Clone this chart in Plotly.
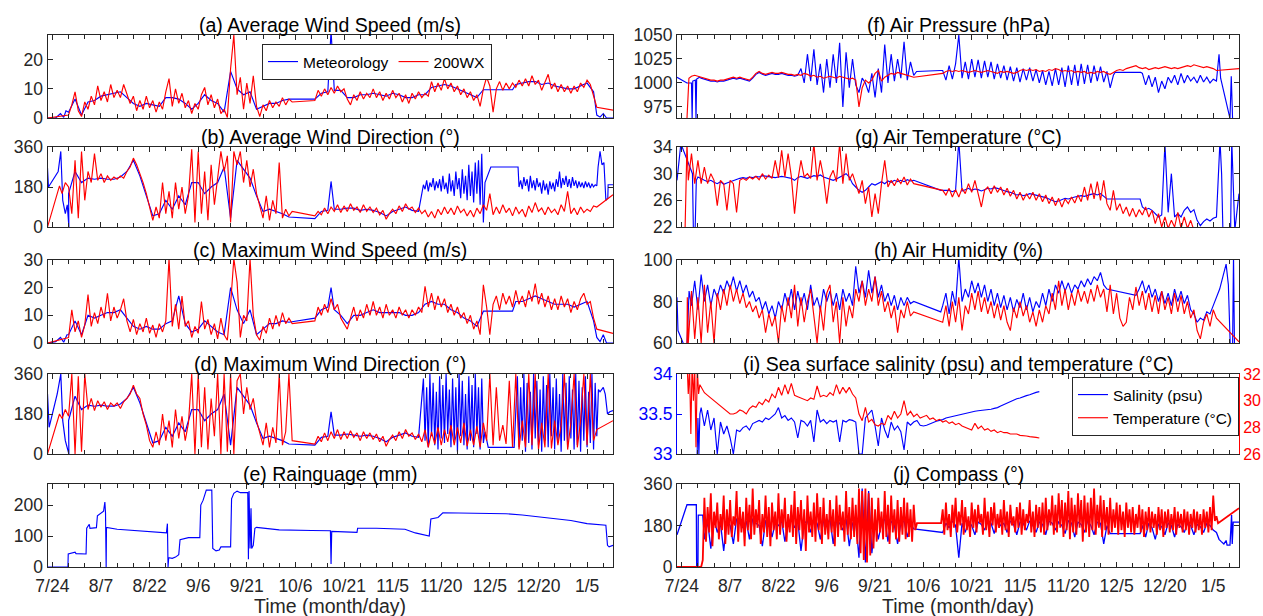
import plotly.graph_objects as go

# ---------------- axis categories ----------------
TICK_DAYS = [0, 15, 30, 45, 60, 75, 90, 105, 120, 135, 150, 165]
TICK_LABELS = ["7/24", "8/7", "8/22", "9/6", "9/21", "10/6", "10/21", "11/5",
               "11/20", "12/5", "12/20", "1/5"]
X_RANGE = [-1.5, 173]

# ---------------- (a) average wind speed ----------------
A_RED_1 = [1.0, 4.5, 9.0, 2.5, 0.5, 5.5, 3.0, 7.5, 4.5, 11.0,
           6.0, 9.0, 5.5, 11.5, 7.0, 9.5, 7.0, 11.5, 8.0, 5.0,
           7.5, 2.5, 6.0, 3.0, 7.5, 3.5, 6.0, 2.0, 5.5, 3.0,
           9.0, 13.5, 4.0, 10.0, 5.0, 8.5, 3.5, 6.0, 1.5, 5.0,
           3.0, 8.0, 10.5, 4.5, 8.0, 3.5, 6.5, 1.5, 3.0, 0.2,
           17.0, 28.5, 8.0, 14.0, 3.0, 12.0, 5.0, 14.5, 4.0, 0.5,
           4.5, 2.5, 6.0, 3.5, 5.5, 4.0, 7.0, 4.5, 6.5, 5.5]
A_RED_2 = [6.0, 9.5, 7.5, 10.0, 8.0, 10.5, 8.5, 11.0, 9.0, 10.0,
           6.5, 4.5, 8.0, 6.0, 9.0, 6.5, 8.5, 7.0, 10.0, 7.0,
           9.0, 6.0, 8.5, 6.5, 9.5, 7.0, 8.5, 5.5, 8.0, 5.0,
           8.5, 6.5, 9.0, 7.0, 8.5, 7.5, 12.5, 9.0, 12.0, 9.5,
           13.5, 10.0, 12.0, 9.0, 11.0, 8.0, 10.0, 7.0, 9.0, 6.0,
           8.0, 4.0, 10.0, 14.0, 11.0, 2.0, 10.0, 12.5, 9.5, 12.0,
           10.0, 12.0, 10.5, 13.0, 11.0, 13.5, 11.0, 14.5, 11.5, 13.0,
           9.5, 12.0, 15.0, 10.0, 12.0, 9.0, 11.5, 9.0, 11.0, 8.5,
           11.0, 9.0, 12.0, 10.5, 13.0, 11.5, 8.0, 3.7]
A_MET_1 = [2.0, 6.5, 1.0, 5.5, 6.0, 7.5, 8.0, 8.5, 9.0, 7.0, 5.0, 4.0, 5.0, 4.5,
           4.0, 7.0, 7.0, 6.5, 5.0, 3.0, 5.0, 8.0, 6.0, 5.0, 2.0, 16.0, 10.0, 8.0,
           9.0, 3.0, 4.0, 5.0, 5.0, 6.0, 6.5]
A_MET_2 = [6.5, 8.5, 9.0]
A_MET_3 = [9.5, 9.5, 7.0, 7.0, 8.0, 8.0, 8.5, 8.0, 7.5, 8.5, 8.0, 7.0, 7.0, 8.0,
           8.0, 10.5, 11.0, 11.5, 11.0, 10.0, 9.0, 8.0, 7.0, 9.7]
A_MET_4 = [11.5, 12.0, 12.5, 12.5, 11.5, 12.0, 11.0, 10.5, 10.0, 10.0, 11.0, 12.0, 9.0]

# ---------------- (b) average wind direction ----------------
B_RED_1 = [180, 60, 300, 40, 340, 120, 250, 200, 330, 210,
           240, 200, 230, 210, 225, 215, 230, 220, 250, 270,
           310, 280, 240, 200, 150, 90, 30, 90, 40, 200,
           60, 160, 40, 200, 80, 180, 60, 140, 350, 20,
           340, 60, 250, 30, 280, 100, 230, 340, 250, 320,
           20, 340, 280, 340, 200, 300, 180, 260, 150, 100,
           40, 140, 30, 120, 60, 290, 40, 80, 50, 70]
B_RED_2 = [50, 70, 55, 85, 60, 90, 70, 100, 65, 95,
           70, 105, 75, 90, 65, 100, 70, 90, 65, 85,
           55, 75, 35, 60, 80, 60, 95, 70, 105, 80,
           90, 65, 85, 60, 75, 45, 70, 40, 80, 55,
           90, 60, 85, 55, 95, 65, 80, 50, 75, 45,
           85, 60, 100, 75, 150, 55, 90, 60, 100, 65,
           85, 50, 90, 60, 80, 45, 95, 65, 110, 70,
           85, 55, 90, 65, 80, 55, 100, 70, 160, 60,
           85, 55, 90, 65, 80, 70, 95, 90]
B_MET_1 = [150, 250, 200, 220, 215, 220, 215, 215, 225, 250, 300, 230, 140, 50,
           60, 120, 80, 140, 100, 200, 200, 150, 180, 200, 270, 40, 300, 260,
           220, 140, 70, 80, 70, 60, 45]
B_MET_3 = [80, 85, 85, 75, 80, 75, 65, 50, 70, 80, 90, 75, 70]
B_MET_HI1 = [190, 170, 210, 160, 200, 180, 220, 165, 205, 175, 215, 160, 230, 170,
             200, 150, 240, 160, 210, 140, 250, 170, 220, 130, 260, 150, 230, 120,
             280, 140, 250, 110, 290, 150, 300, 100, 330, 20, 200]
B_MET_HI2 = [180, 210, 170, 225, 185, 215, 160, 230, 175, 210, 165, 220, 180, 200,
             150, 210, 165, 195, 145, 205, 170, 200, 160, 215, 180, 250, 175, 220,
             190, 230, 180, 215, 175, 225, 185, 210, 175, 205, 180, 200, 175, 205,
             180, 200, 175, 195, 180, 190, 185]

# ---------------- (c) maximum wind speed ----------------
C_RED_1 = [2.0, 12.0, 4.0, 8.0, 2.0, 6.5, 17.5, 6.0, 11.0, 7.0,
           13.0, 9.0, 18.0, 8.0, 13.0, 9.0, 12.0, 16.0, 8.0, 4.0,
           8.5, 3.0, 7.0, 4.0, 9.0, 3.5, 6.5, 2.0, 7.0, 4.0,
           8.0, 30.5, 6.0, 14.0, 5.0, 17.0, 6.0, 8.0, 2.0, 6.0,
           3.5, 15.0, 5.0, 8.5, 3.0, 7.0, 1.5, 9.0, 3.0, 1.0,
           14.0, 30.5, 22.0, 2.0, 10.0, 8.0, 30.5, 10.0, 3.0, 1.0,
           6.0, 3.5, 9.0, 5.0, 10.0, 6.0, 11.0, 7.0, 9.0, 7.0]
C_RED_2 = [8, 13, 10, 14, 11, 16, 12, 14, 9, 7,
           5, 9, 13, 8, 12, 9, 14, 10, 15, 10,
           13, 9, 14, 10, 12, 9, 13, 10, 12, 9,
           12, 10, 13, 11, 20.5, 13, 18, 12, 17, 13,
           16, 11, 14, 10, 13, 9, 11, 7, 10, 5,
           8, 3, 21, 13, 3, 14, 17, 12, 18, 14,
           17, 13, 19, 14, 17, 13, 19, 15, 21.5, 14,
           18, 13, 17, 12, 16, 12, 17, 13, 16, 11,
           15, 12, 16, 18, 14, 15, 9, 5]
C_MET_1 = [3, 8, 3, 10, 9, 10, 11, 11, 12, 9, 6, 5, 6, 5, 5, 7, 8, 17, 7, 4, 5, 8,
           6, 4, 3, 20, 12, 7, 12, 3, 5, 7, 7, 8, 7.5]
C_MET_2 = [9, 12, 13]
C_MET_3 = [12, 10, 7, 10, 10, 11, 12, 11, 11, 11, 11, 10, 10, 11, 14, 15, 14, 14,
           12, 11, 9, 8, 6, 11.5]
C_MET_4 = [15, 15, 16, 17, 16, 15, 14, 14, 14, 13, 14, 15, 8]

# ---------------- (d) maximum wind direction ----------------
D_RED_1 = [170, 360, 0, 350, 10, 360, 200, 250, 195, 240,
           210, 235, 200, 230, 215, 230, 205, 235, 250, 270,
           310, 270, 250, 180, 130, 60, 30, 100, 40, 180,
           60, 150, 30, 200, 70, 170, 60, 140, 360, 0,
           360, 30, 300, 20, 250, 80, 360, 0, 360, 10,
           360, 0, 330, 360, 180, 300, 200, 250, 150, 100,
           40, 140, 30, 120, 50, 360, 40, 100, 360, 60]
D_RED_2 = [45, 80, 55, 95, 60, 100, 70, 110, 65, 100,
           70, 105, 75, 95, 60, 100, 70, 95, 65, 90,
           55, 80, 35, 65, 85, 60, 100, 70, 110, 80,
           95, 65, 90, 55, 110, 30, 100, 45, 120, 40,
           110, 55, 130, 40, 120, 50, 140, 35, 110, 40,
           125, 30, 140, 60, 360, 40, 300, 60, 130, 45,
           330, 30, 360, 20, 150, 30, 360, 40, 360, 20,
           140, 30, 360, 25, 150, 40, 130, 360, 20, 140,
           360, 30, 150, 360, 40, 360, 60, 110]
D_MET_1 = [150, 260, 200, 220, 215, 220, 215, 215, 225, 250, 300, 230, 140, 50,
           60, 120, 80, 140, 100, 200, 200, 150, 180, 200, 270, 40, 300, 260,
           220, 140, 70, 80, 70, 60, 45]
D_MET_3 = [85, 90, 85, 80, 85, 80, 70, 55, 75, 85, 95, 80, 75]
D_MET_HI1 = [340, 60, 300, 30, 360, 80, 320, 40, 280, 20, 350, 70, 310, 50, 360,
             90, 290, 30, 340, 60, 300, 10, 360, 80, 330, 40, 270, 20, 350, 60,
             310, 30, 360, 90, 300, 20, 340, 50, 100]
D_MET_HI2 = [350, 30, 300, 60, 360, 10, 320, 50, 280, 20,
             360, 70, 330, 40, 290, 10, 350, 60, 310, 30,
             360, 80, 300, 20, 340, 50, 270, 10, 360, 60,
             320, 30, 350, 70, 290, 20, 360, 40, 330, 10,
             300, 60, 350, 30, 280, 50, 360, 20, 320, 80]

# ---------------- (e) rainguage ----------------
E_T = [-1.5, 4.8, 4.9, 6.5, 7.0, 7.3, 10.4, 10.6, 11.4, 11.6, 13.6, 13.9, 15.0, 15.8,
       16.2, 16.4, 16.6, 16.7, 20, 25, 30, 35.2, 35.5, 35.7, 35.9, 37, 38, 39, 39.4,
       40.5, 42, 45.5, 45.8, 46.5, 47.5, 49.2, 49.5, 50.5, 51.5, 52, 55, 55.3, 56,
       57, 58, 60.3, 60.5, 60.7, 61, 61.3, 61.5, 62, 62.5, 63, 70, 80, 85.8, 86,
       86.2, 94, 94.2, 100, 108.8, 112, 116.3, 116.8, 119, 120.5, 130, 140, 145,
       150, 155, 160, 165, 168.5, 170.8, 171.3, 171.8, 173]
E_V = [0, 0, 42, 45, 48, 43, 42, 125, 138, 125, 127, 165, 175, 180,
       210, 175, 0, 128, 122, 118, 114, 110, 140, 0, 30, 28, 32, 40, 88,
       92, 95, 95, 200, 215, 248, 248, 60, 52, 55, 65, 65, 220, 238,
       245, 240, 240, 25, 245, 60, 190, 60, 70, 125, 128, 120, 118, 117, 10,
       115, 112, 125, 125, 122, 110, 100, 155, 160, 175, 173, 172, 168,
       162, 158, 150, 140, 138, 135, 70, 65, 70]

# ---------------- (f) air pressure ----------------
F_RED_1 = [1007, 1008, 1007, 1006, 1005, 1004, 1003, 1003, 1002, 1003,
           1003, 1004, 1005, 1006, 1005, 1006, 1005, 1004, 1003, 1006,
           1010, 1012, 1010, 1009, 1010, 1011, 1010, 1010, 1011, 1010,
           1009, 1009, 1008, 1009, 1008, 1010, 1009, 1007, 1008, 1006,
           1007, 1005, 1006, 1007, 1006, 1005, 1007, 1006, 1005, 1004,
           1005, 1003, 975, 995, 1003, 1000, 1003, 1010, 1013, 1002,
           1006, 1008, 1010, 1009, 1011, 1010, 1009, 1008, 1007, 1006]
F_RED_2 = [1010, 1012, 1013, 1012, 1013, 1012, 1013, 1012, 1011, 1012,
           1013, 1012, 1011, 1012, 1013, 1012, 1011, 1010, 1012, 1011,
           1012, 1011, 1010, 1011, 1013, 1014, 1013, 1014, 1013, 1014,
           1012, 1013, 1012, 1014, 1013, 1015, 1014, 1012, 1013, 1012,
           1013, 1011, 1012, 1011, 1012, 1010, 1011, 1010, 1012, 1011,
           1012, 1010, 1009, 1011, 1013, 1014, 1013, 1015, 1016, 1017,
           1018, 1016, 1015, 1016, 1014, 1015, 1016, 1015, 1016, 1017,
           1016, 1015, 1016, 1015, 1016, 1017, 1018, 1017, 1019, 1018,
           1017, 1016, 1017, 1016, 1015, 1013]
F_MET_1 = [1005, 1004, 1003, 1002, 1002, 1001, 1002, 1002, 1003, 1004, 1005, 1004,
           1005, 1004, 1003, 1002, 1005, 1009, 1011, 1009, 1008, 1009, 1010, 1009,
           1009, 1010, 1009, 1008, 1008, 1007, 1008]
F_MET_OSC = [1015, 1000, 1030, 1002, 1035, 998, 1020, 990, 1025, 995, 1030, 1000,
             1042, 975, 1032, 995, 1025, 998, 990, 1005, 1000, 990, 1010, 985,
             1015, 990, 1040, 1000, 1030, 1002, 1025, 1005, 1043, 1003, 1022, 1008]
F_MET_2 = [1013, 1003, 1018, 1004, 1020, 1050, 1005, 1022, 1004, 1025,
           1006, 1024, 1005, 1023, 1006, 1022, 1004, 1020, 1005, 1018,
           1003, 1017, 1002, 1016, 1001, 1015, 1003, 1016, 1002, 1014,
           1000, 1013, 998, 1012, 997, 1015, 998, 1016, 996, 1018,
           998, 1019, 997, 1020, 999, 1019, 1000, 1018, 1002, 1017,
           1001, 1012, 995, 1008]
F_MET_3 = [1010, 998, 1008, 996, 1006, 990, 1002, 994, 1006, 1000, 1008, 998,
           1010, 1000, 1008, 1002, 1006, 1000, 1008, 1001, 1006, 1000, 1004, 1002]

# ---------------- (g) air temperature ----------------
G_RED_1 = [29, 33, 28.5, 32, 28.5, 31, 28.5, 30, 29, 25.2,
           29, 28.5, 24.5, 29, 28.5, 24.2, 29, 29.3, 29, 29.5,
           29.2, 29.6, 29.1, 30, 29.2, 29.8, 29.3, 32, 29.4, 33.5,
           29.5, 33, 29.6, 24, 29, 32, 29.5, 30, 29.3, 34.5,
           29, 32, 29.5, 25.5, 29.5, 30.5, 28.8, 34.5, 28.5, 33,
           29, 30, 28.5, 27, 29, 25.5, 28, 23.5, 27, 24,
           28.5, 32, 28, 29, 28.2, 29.2, 28.5, 29.5, 28.3, 29.2, 28.5]
G_RED_2 = [27.5, 26.8, 27.8, 26.5, 27.6, 26.5, 27.8, 27.0, 28.5, 27.2,
           29.0, 27.0, 25.0, 27.5, 28.0, 27.0, 28.2, 27.2, 28.0, 26.8,
           27.8, 26.6, 27.5, 26.2, 27.2, 26.0, 27.0, 26.2, 27.2, 26.0,
           27.0, 25.8, 26.8, 25.5, 26.5, 25.2, 26.3, 25.0, 26.2, 25.5,
           26.5, 25.6, 26.8, 25.8, 28.0, 26.0, 28.5, 26.2, 28.8, 26.0,
           29.0, 25.5, 24.5, 27.5, 24.5, 25.5, 24.0, 25.0, 23.6, 24.8,
           23.5, 24.6, 23.8, 25.0, 23.5, 24.5, 22.5, 24.0, 22.0, 23.5,
           21.8, 23.0, 22.0, 24.2, 21.8, 23.5, 21.8, 23.0]
G_MET_1 = [29.5, 29.2, 29.0, 28.8, 29.0, 28.7, 28.5, 28.8, 28.4, 28.6,
           28.8, 29.0, 29.2, 29.3, 29.4, 29.3, 29.5, 29.4, 29.6, 29.5,
           29.7, 29.6, 29.6, 29.5, 29.4, 29.5, 29.6, 29.5, 29.4, 29.3,
           29.0, 29.4, 29.6, 29.5, 29.3, 29.5, 29.7, 29.6, 29.8, 29.5,
           29.3, 29.2, 29.0, 29.2, 29.5, 29.8, 30.0, 29.5, 28.5, 28.0,
           27.5, 27.2, 27.5, 28.0, 28.5, 28.3, 28.6, 28.8, 28.5, 28.9,
           28.7, 29.0, 28.8, 29.0, 28.8, 29.1, 28.9, 29.0]
G_MET_2 = [27.5, 27.4, 27.5, 27.3, 27.5, 35.0, 27.4, 27.6, 27.8, 27.5,
           27.7, 27.6, 27.4, 27.6, 27.8, 27.7, 27.9, 27.8, 27.6, 27.5,
           27.3, 27.2, 27.0, 26.8, 26.9, 26.7, 26.8, 27.0, 26.9, 26.8,
           26.7, 26.6, 26.4, 26.2, 26.0, 25.8, 25.9, 26.1, 26.3, 26.2,
           26.4, 26.5, 26.6, 26.7, 26.6, 26.8, 26.9, 27.0, 26.8, 27.0,
           26.6, 26.2]
G_MET_3 = [25.0, 24.6, 24.8, 24.5, 24.0, 23.5, 23.8, 34.5, 24.2, 30.0, 23.5, 24.0,
           23.5, 24.5, 25.0, 24.2, 24.6, 23.0, 22.2, 22.8, 23.2, 22.9, 23.3, 23.5]

# ---------------- (h) air humidity ----------------
H_RED_1 = [60, 85, 62, 82, 60, 88, 65, 80, 60, 84,
           76, 86, 78, 88, 80, 86, 79, 84, 77, 80,
           75, 78, 72, 76, 65, 74, 68, 73, 60, 78,
           70, 82, 72, 88, 68, 82, 70, 80, 86, 72,
           60, 78, 66, 84, 88, 70, 80, 60, 82, 68,
           78, 72, 86, 80, 90, 78, 86, 80, 92, 78,
           85, 75, 80, 72, 78, 65, 76, 72, 80, 73, 75]
H_RED_2 = [70, 78, 68, 80, 70, 82, 66, 78, 74, 84,
           76, 85, 75, 82, 74, 80, 72, 79, 71, 78,
           70, 66, 77, 72, 80, 73, 78, 70, 75, 68,
           76, 70, 78, 74, 84, 76, 90, 78, 86, 76,
           84, 78, 86, 80, 85, 79, 86, 80, 88, 82,
           86, 75, 88, 74, 84, 72, 68, 70, 82, 76,
           87, 78, 85, 76, 84, 75, 83, 74, 85, 76,
           82, 74, 84, 75, 83, 74, 80, 72, 76, 66,
           62, 70, 74, 68, 76, 72]
H_MET_1 = [78, 90, 76, 93, 80, 88, 78, 86, 82, 88,
           84, 90, 86, 92, 85, 90, 84, 88, 82, 85,
           80, 82, 76, 80, 74, 78, 72, 80, 76, 84,
           78, 86, 76, 85, 78, 84, 76, 88, 78, 82,
           76, 86, 80, 85, 78, 84, 76, 86, 80, 84,
           78, 97, 84, 90, 82, 95, 84, 92, 82, 88,
           80, 84, 78, 83, 76, 82, 78, 82, 79, 80]
H_MET_2 = [78, 84, 74, 85, 78, 101, 80, 86, 82, 90,
           84, 89, 82, 88, 80, 86, 78, 84, 77, 83,
           76, 82, 75, 81, 77, 84, 76, 82, 75, 80,
           77, 84, 78, 86, 80, 88, 84, 90, 85, 89,
           84, 88, 86, 90, 87, 91, 88, 92, 90, 94,
           88, 86]
H_MET_3 = [86, 90, 84, 88, 82, 86, 80, 85, 79, 84, 78, 86, 80, 85, 79, 83, 76, 74,
           70, 72, 71, 75, 74, 78, 82]

# ---------------- (i) sea surface salinity & temperature ----------------
I_SAL_1 = [33.58, 33.35, 33.55, 33.3, 33.45, 33.0, 33.4, 33.25, 33.35, 33.2,
           33.0, 33.3, 33.28, 33.33, 33.35, 33.3, 33.38, 33.4, 33.42, 33.4,
           33.45, 33.43, 33.47, 33.5, 33.58, 33.45, 33.48, 33.42, 33.45, 33.4,
           33.2, 33.42, 33.4, 33.35, 33.42, 33.15, 33.55, 33.4, 33.43, 33.38,
           33.42, 33.4, 33.42, 33.15, 33.42, 33.4, 33.43, 33.42, 33.4, 33.0,
           33.0, 33.45, 33.5, 33.55, 33.35, 33.1, 33.45, 33.3, 33.2, 33.4,
           33.3, 33.35, 33.28, 33.05, 33.4, 33.36, 33.4, 33.42, 33.36, 33.35]
I_SAL_2 = [33.36, 33.38, 33.39, 33.41, 33.42, 33.43, 33.45, 33.46, 33.47, 33.48,
           33.49, 33.5, 33.51, 33.52, 33.53, 33.535, 33.54, 33.545, 33.55, 33.55,
           33.56, 33.57, 33.58, 33.6, 33.62, 33.64, 33.66, 33.68, 33.69, 33.7,
           33.72, 33.73, 33.74, 33.76, 33.77, 33.78]
I_TMP_0 = [33, 30.5, 32.5, 27.5, 33, 30.0, 32.5, 26.5, 32.5, 30.5, 31.2]
I_TMP_1 = [31.0, 30.6, 30.4, 30.2, 30.0, 29.8, 29.6, 29.4, 29.2, 29.0,
           29.0, 29.1, 29.3, 29.2, 29.0, 29.4, 29.6, 29.5, 29.9, 29.7,
           30.1, 29.9, 30.5, 30.2, 31.0, 30.4, 31.2, 30.5, 31.3, 30.4,
           30.3, 30.2, 30.1, 30.0, 30.2, 30.1, 31.1, 30.3, 30.4, 30.3,
           30.6, 30.4, 31.2, 30.5, 31.0, 30.6, 31.0, 30.5, 30.2, 29.0,
           28.5, 29.5, 28.4, 28.6, 28.2, 28.1, 28.3, 28.2, 28.9, 28.6,
           29.2, 28.7, 29.0, 30.0, 28.9, 29.2, 28.8, 29.0, 28.7, 28.8]
I_TMP_2 = [28.9, 28.6, 28.7, 28.5, 28.6, 28.4, 28.5, 28.3, 28.4, 28.2,
           28.3, 28.1, 28.0, 27.9, 27.8, 28.3, 27.9, 28.1, 27.8, 27.9,
           27.7, 27.8, 27.6, 27.7, 27.6, 27.6, 27.5, 27.5, 27.5, 27.4,
           27.4, 27.35, 27.3, 27.3, 27.25, 27.2]

# ---------------- (j) compass ----------------
J_RED_1 = [300, 110, 260, 150, 320, 90, 240, 170, 280, 120,
           230, 160, 310, 100, 250, 140, 290, 130, 220, 180,
           330, 110, 260, 150, 240, 90, 300, 160, 270, 120,
           340, 140, 250, 170, 290, 100, 230, 150, 310, 130,
           260, 90, 280, 160, 240, 120, 320, 140, 250, 170,
           300, 110, 230, 150, 270, 130, 330, 100, 260, 160,
           290, 120, 250, 70, 310, 150, 240, 130, 280, 110,
           320, 160, 260, 100, 300, 140, 230, 120, 290, 150,
           250, 90, 310, 130, 270, 160, 240, 110, 330, 140,
           260, 120, 300, 130, 270, 100, 340, 60, 330, 30,
           340, 20, 320, 50, 300, 80, 250, 110, 300, 150,
           240, 120, 330, 130, 270, 100, 310, 150, 250, 120,
           290, 110, 260, 140, 300, 120, 280, 130, 250, 110, 270, 160, 190]
J_RED_2 = [190, 250, 140, 280, 160, 230, 130, 270, 170, 300,
           150, 240, 180, 290, 140, 260, 160, 220, 130, 280,
           170, 250, 150, 270, 190, 230, 140, 300, 160, 240,
           130, 260, 180, 280, 150, 230, 170, 250, 140, 290,
           160, 240, 130, 270, 180, 220, 150, 260, 170, 280,
           140, 250, 160, 230, 190, 290, 150, 240, 130, 270,
           170, 260, 150, 280, 140, 300, 160, 250, 180, 310,
           140, 270, 150, 320, 170, 290, 130, 280, 160, 330,
           120, 300, 150, 270, 140, 320, 170, 290, 110, 310,
           150, 280, 130, 300, 160, 340, 140, 270, 170, 310,
           130, 290, 160, 260, 140, 300, 150, 250, 170, 280,
           140, 270, 160, 240, 130, 280, 170, 250, 150, 260,
           140, 230, 170, 270, 150, 250, 130, 240, 160, 260,
           150, 240, 170, 230, 140, 260, 160, 250, 130, 240,
           170, 250, 150, 230, 160, 260, 140, 240, 170, 230,
           150, 250, 160, 240, 140, 230, 170, 250, 150, 240,
           160, 230, 140, 250, 170, 240, 150, 260, 160, 310,
           200, 220, 190]
J_MET_1 = [120, 200, 80, 210, 150, 190, 70, 200, 180, 100, 210, 190, 170, 200,
           120, 210, 190, 180, 90, 200, 210, 130, 190, 180, 200, 110, 190, 210,
           170, 200, 70, 190, 200, 150, 210, 190, 120, 200, 180, 210, 100, 200,
           190, 160, 210, 90, 190, 200, 40, 340, 20, 330, 60, 200, 120, 190,
           210, 110, 200, 180, 100, 190, 200, 130, 190, 165]
J_MET_2 = [150, 190, 170, 200, 180, 40, 190, 150, 200, 180, 140, 195, 185, 160,
           200, 190, 145, 200, 180, 190, 150, 200, 185, 140, 195, 190, 160, 200,
           180, 150, 195, 185, 140, 200, 190, 160, 195, 180, 145, 200, 190, 130,
           195, 185, 150, 200, 180, 140, 195, 190, 100, 180, 145]
J_MET_3 = [180, 130, 190, 170, 120, 185, 175, 140, 190, 180, 130, 185, 175, 150,
           190, 180, 140, 185, 175, 150, 190, 180, 160, 150]


# ---------------- helpers ----------------
def reg(t0, dt, vals):
    return [t0 + i * dt for i in range(len(vals))], list(vals)


def pts(ts, vals):
    return list(ts), list(vals)


def join(*pieces):
    t, v = [], []
    for a, b in pieces:
        t += a
        v += b
    return t, v


S = {}
S["a_met"] = join(pts([-1.5, 1, 2.5, 3.5, 4.2], [0, 0, 1.5, 0.2, 2.5]), reg(5, 2, A_MET_1),
                  reg(81, 2, A_MET_2), pts([86], [30]), reg(87, 2, A_MET_3), pts([142], [9.7]),
                  reg(143, 2, A_MET_4), pts([168, 169, 170, 171, 173], [1.0, 0.3, 1.5, 0.0, 0.0]))
S["a_red"] = join(pts([-1.5], [0]), reg(5, 1, A_RED_1), reg(81, 1, A_RED_2), pts([173], [2.7]))

S["b_met"] = join(pts([-1.5, -1.2, 1.8, 2.6, 3.2, 4.0, 4.6, 5.1], [265, 180, 250, 340, 120, 60, 100, 0]),
                  reg(5, 2, B_MET_1), pts([81, 83, 85, 86, 87], [38, 70, 75, 205, 80]),
                  reg(89, 2, B_MET_3), reg(114.5, 0.5, B_MET_HI1), pts([135.3, 143.7], [270, 270]),
                  reg(144, 0.5, B_MET_HI2),
                  pts([168.4, 169, 169.6, 170.2, 170.8, 171.4, 171.5, 173], [270, 340, 280, 290, 120, 130, 190, 190]))
S["b_red"] = join(pts([-1.5, 2.2, 3, 4], [0, 185, 150, 200]), reg(5, 1, B_RED_1), reg(81, 1, B_RED_2),
                  pts([173], [145]))

S["c_met"] = join(pts([-1.5, 1, 2.5, 3.5, 4.5], [0, 0.5, 2, 0.3, 3]), reg(5, 2, C_MET_1),
                  reg(81, 2, C_MET_2), pts([86], [20]), reg(87, 2, C_MET_3), pts([142], [11.5]),
                  reg(143, 2, C_MET_4), pts([168, 169, 170, 171, 173], [2, 0.5, 3, 0, 0]))
S["c_red"] = join(pts([-1.5], [0]), reg(5, 1, C_RED_1), reg(81, 1, C_RED_2), pts([173], [3.5]))

S["d_met"] = join(pts([-1.5, -1.0, 1.5, 2.6, 3.2, 4.0, 5.1], [270, 120, 270, 360, 150, 60, 0]),
                  reg(5, 2, D_MET_1), pts([81, 83, 85, 86, 87], [40, 75, 80, 190, 85]),
                  reg(89, 2, D_MET_3), reg(114.5, 0.5, D_MET_HI1), pts([134.5, 142.5], [30, 30]),
                  reg(143.5, 0.5, D_MET_HI2),
                  pts([168.5, 169, 170, 170.6, 171.3, 172, 173], [290, 280, 300, 270, 180, 190, 195]))
S["d_red"] = join(pts([-1.5, 2.2, 3.0, 4.0], [0, 180, 160, 200]), reg(5, 1, D_RED_1),
                  reg(81, 1, D_RED_2), pts([173], [150]))

S["e_met"] = pts(E_T, E_V)

S["f_met"] = join(pts([-1.5, 1.6, 3.0, 3.2, 3.4, 4.2, 4.4, 4.6, 5.5],
                      [1006, 1000, 1000, 963, 1002, 1003, 963, 1004, 1006]),
                  reg(6, 1, F_MET_1), reg(37, 1, F_MET_OSC), pts([72.9, 80.4], [1012, 1013]),
                  reg(81, 1, F_MET_2), pts([134.5, 142.5], [1011, 1011]), reg(143, 1, F_MET_3),
                  pts([166.8, 167.3, 168, 168.8, 169.5, 170.2, 170.6, 171],
                      [1030, 1005, 995, 985, 975, 963, 1007, 963]))
S["f_red"] = join(pts([1.6, 2.2], [963, 1005]), reg(3, 1, F_RED_1), reg(81, 1, F_RED_2),
                  pts([173], [1015]))

S["g_met"] = join(pts([-1.5, -0.3, 3.3, 3.6, 4.1, 4.5], [29, 34.5, 30, 21, 21, 29]),
                  reg(5, 1, G_MET_1), pts([80.4], [27.5]), reg(81, 1, G_MET_2), pts([142.3], [26.2]),
                  reg(143, 1, G_MET_3),
                  pts([167.1, 167.6, 168, 170.4, 170.75, 171.7, 173], [35, 30, 21.5, 21.5, 35, 21.5, 27]))
S["g_red"] = join(pts([1.0, 1.6], [21.5, 34.5]), reg(2, 1, G_RED_1), reg(81, 1, G_RED_2),
                  pts([159, 166.6, 173], [21.5, 21.0, 19.5]))

S["h_met"] = join(pts([-1.5, -1.2, 0.4, 1.5, 2.25], [82, 66, 60, 55, 85]), reg(3, 1, H_MET_1),
                  pts([80.4], [75]), reg(81, 1, H_MET_2), pts([141], [83]), reg(142, 1, H_MET_3),
                  pts([167, 168, 169, 169.7, 170.3, 171.0, 171.3, 171.6], [86, 92, 98, 88, 58, 58, 102, 58]))
S["h_red"] = join(pts([1.6, 1.7], [59, 82]), reg(2, 1, H_RED_1), reg(81, 1, H_RED_2),
                  pts([173], [60.5]))

S["i_sal"] = join(pts([4.75, 5.0, 5.3, 5.6], [33.0, 33.45, 33.0, 33.5]), reg(6, 1, I_SAL_1),
                  reg(76, 1, I_SAL_2))
S["i_tmp"] = join(reg(1.6, 0.4, I_TMP_0), reg(6, 1, I_TMP_1), reg(76, 1, I_TMP_2))

S["j_met"] = join(pts([-1.5, 1.6, 4.5, 4.6, 5.0, 5.1, 6.5], [140, 270, 270, 0, 0, 225, 225]),
                  reg(7, 1, J_MET_1), pts([80.4], [150]), reg(81, 1, J_MET_2), pts([142.3], [145]),
                  reg(143, 1, J_MET_3),
                  pts([166.8, 167.5, 168.3, 169, 169.3, 170.2, 170.7, 170.9, 171.2, 171.6, 173],
                      [120, 110, 100, 115, 95, 95, 225, 100, 195, 195, 195]))
S["j_red"] = join(pts([-1.5, 6.0, 6.5], [0, 0, 30]), reg(7, 0.5, J_RED_1), reg(80.5, 0.5, J_RED_2),
                  pts([173], [255]))

# ---------------- layout ----------------
W, H = 1263, 616
FONT = "Liberation Sans, Arial, sans-serif"
AXC = "#262626"
BLUE, RED = "#0000FF", "#FF0000"
COLS = [(47.5, 613.0), (677.0, 1239.0)]
ROWS = [(35, 118), (147, 227), (260, 343), (374, 454), (484, 567)]
LINE_W = {"j_red": 1.8, "j_met": 1.3, "d_met": 1.2}
TICK_SIZE = 17.5

PANELS = [
    ("a", 0, 0, "(a) Average Wind Speed (m/s)", [0, 28.5], [0, 10, 20], ["a_met", "a_red"]),
    ("b", 0, 1, "(b) Average Wind Direction (°)", [0, 360], [0, 180, 360], ["b_met", "b_red"]),
    ("c", 0, 2, "(c) Maximum Wind Speed (m/s)", [0, 30], [0, 10, 20, 30], ["c_met", "c_red"]),
    ("d", 0, 3, "(d) Maximum Wind Direction (°)", [0, 360], [0, 180, 360], ["d_met", "d_red"]),
    ("e", 0, 4, "(e) Rainguage (mm)", [0, 268], [0, 100, 200], ["e_met"]),
    ("f", 1, 0, "(f) Air Pressure (hPa)", [963.5, 1050], [975, 1000, 1025, 1050], ["f_met", "f_red"]),
    ("g", 1, 1, "(g) Air Temperature (°C)", [22, 34], [22, 26, 30, 34], ["g_met", "g_red"]),
    ("h", 1, 2, "(h) Air Humidity (%)", [60, 100], [60, 80, 100], ["h_met", "h_red"]),
    ("i", 1, 3, "(i) Sea surface salinity (psu) and temperature (°C)", [33, 34], [33, 33.5, 34], ["i_sal"]),
    ("j", 1, 4, "(j) Compass (°)", [0, 360], [0, 180, 360], ["j_met", "j_red"]),
]

fig = go.Figure()
layout = {}
annotations = []
TF = dict(family=FONT, size=TICK_SIZE, color=AXC)

for n, (key, col, row, title, yr, yt, series) in enumerate(PANELS, start=1):
    xa = "xaxis" if n == 1 else f"xaxis{n}"
    ya = "yaxis" if n == 1 else f"yaxis{n}"
    xr = "x" if n == 1 else f"x{n}"
    yrf = "y" if n == 1 else f"y{n}"
    x0, x1 = COLS[col]
    top, bot = ROWS[row]
    xd = [x0 / W, x1 / W]
    yd = [1 - bot / H, 1 - top / H]
    layout[xa] = dict(domain=xd, anchor=yrf, range=X_RANGE, tickmode="array", tickvals=TICK_DAYS,
                      ticktext=TICK_LABELS, showticklabels=(row == 4), ticks="inside", ticklen=5,
                      tickcolor=AXC, showline=True, linecolor=AXC, linewidth=1, mirror="ticks",
                      showgrid=False, zeroline=False, tickfont=TF, ticklabelstandoff=3,
                      automargin=False,
                      minor=dict(tickmode="linear", tick0=0, dtick=5, ticks="inside", ticklen=4,
                                 tickcolor=AXC, showgrid=False))
    ycfg = dict(domain=yd, anchor=xr, range=yr, tickmode="array", tickvals=yt, ticks="inside",
                ticklen=5, tickcolor=AXC, showline=True, linecolor=AXC, linewidth=1, mirror="ticks",
                showgrid=False, zeroline=False, tickfont=TF, automargin=False)
    if key == "i":
        ycfg.update(mirror=False, linecolor=BLUE, tickcolor=BLUE,
                    tickfont=dict(family=FONT, size=TICK_SIZE, color=BLUE),
                    ticktext=["33", "33.5", "34"])
        layout["yaxis11"] = dict(overlaying="y9", anchor="x9", side="right", range=[26, 32],
                                 tickmode="array", tickvals=[26, 28, 30, 32], ticks="inside", ticklen=5,
                                 tickcolor=RED, showline=True, linecolor=RED, linewidth=1,
                                 showgrid=False, zeroline=False, automargin=False,
                                 tickfont=dict(family=FONT, size=16, color=RED))
    layout[ya] = ycfg
    annotations.append(dict(text=title, x=(xd[0] + xd[1]) / 2, y=1 - (top + 3) / H, xref="paper",
                            yref="paper", xanchor="center", yanchor="bottom", showarrow=False,
                            font=dict(family=FONT, size=19.5, color="black")))
    if row == 4:
        annotations.append(dict(text="Time (month/day)", x=(xd[0] + xd[1]) / 2, y=1 - 606 / H,
                                xref="paper", yref="paper", xanchor="center", yanchor="middle",
                                showarrow=False, font=dict(family=FONT, size=19.5, color=AXC)))
    for s in series:
        t, v = S[s]
        color = RED if s.endswith("red") else BLUE
        name = None
        showleg = False
        legend = "legend"
        if key == "a":
            name = "Meteorology" if s == "a_met" else "200WX"
            showleg = True
        if key == "i":
            name = "Salinity (psu)"
            showleg = True
            legend = "legend2"
        fig.add_trace(go.Scatter(x=t, y=v, mode="lines",
                                 line=dict(color=color, width=LINE_W.get(s, 1.15)),
                                 xaxis=xr, yaxis=yrf, name=name, showlegend=showleg, legend=legend,
                                 hoverinfo="skip"))
    if key == "i":
        t, v = S["i_tmp"]
        fig.add_trace(go.Scatter(x=t, y=v, mode="lines", line=dict(color=RED, width=1.15),
                                 xaxis="x9", yaxis="y11", name="Temperature (°C)", showlegend=True,
                                 legend="legend2", hoverinfo="skip"))

fig.update_layout(**layout)
fig.update_layout(
    width=W, height=H, margin=dict(l=0, r=0, t=0, b=0, autoexpand=False),
    paper_bgcolor="white", plot_bgcolor="white",
    annotations=annotations, font=dict(family=FONT, color=AXC),
    legend=dict(x=262 / W, y=1 - 44 / H, xanchor="left", yanchor="top", orientation="h",
                bgcolor="white", bordercolor=AXC, borderwidth=1, itemwidth=30,
                font=dict(family=FONT, size=15.5, color="black")),
    legend2=dict(x=1072 / W, y=1 - 377 / H, xanchor="left", yanchor="top", orientation="v",
                 bgcolor="white", bordercolor=AXC, borderwidth=1, itemwidth=30,
                 font=dict(family=FONT, size=15.5, color="black")),
)

fig.write_html("out.html", config={"displayModeBar": False},
               post_script="document.body.style.margin='0';document.body.style.padding='0';"
                           "document.body.style.overflow='hidden';")
